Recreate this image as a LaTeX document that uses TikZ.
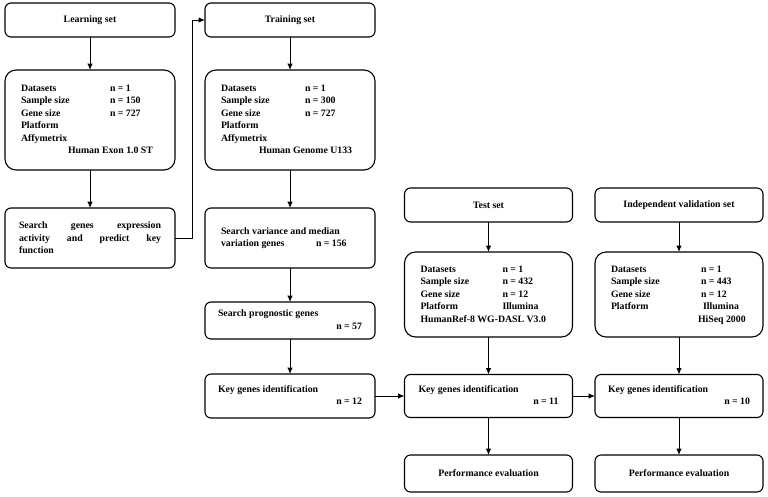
\documentclass[tikz,border=0pt]{standalone}
\usepackage{fontspec}
\setmainfont{Liberation Serif}
\usetikzlibrary{arrows.meta}

\begin{document}
\begin{tikzpicture}[y=1pt, x=1pt, yscale=-1.000000, xscale=1.000000, inner sep=0pt, outer sep=0pt,
  font=\fontsize{9.8}{12.5}\selectfont\bfseries,
  box/.style={draw=black, line width=1.1pt, rounded corners=6pt, minimum width=170pt},
  databox/.style={box, rounded corners=11pt, minimum height=100pt},
  arr/.style={draw=black, line width=1pt, -{Latex[length=6.5pt,width=5.5pt]}}]
\useasboundingbox (0,0) rectangle (768,496);
\begin{scope}% left column
  % learning set
  \node[box, minimum height=34pt] (learn) at (90,20) {Learning set};

  % learndata
  \node[databox] (learndata) at (90,120) {\begin{tabular}{@{}p{89pt}@{}p{49pt}@{}}
    Datasets & n = 1\\
    Sample size & n = 150\\
    Gene size & n = 727\\
    Platform & \\
    Affymetrix & \\
    \multicolumn{2}{@{}l@{}}{\hspace{47pt}Human Exon 1.0 ST}
  \end{tabular}};

  % searchexpr
  \node[box, minimum height=60pt, text width=142pt, align=justify] (searchexpr) at (90,238)
    {Search genes expression\linebreak activity and predict key\linebreak function};

\end{scope}
\begin{scope}% middle column
  % training set
  \node[box, minimum height=34pt] (train) at (290,20) {Training set};

  % traindata
  \node[databox] (traindata) at (290,120) {\begin{tabular}{@{}p{84pt}@{}p{54pt}@{}}
    Datasets & n = 1\\
    Sample size & n = 300\\
    Gene size & n = 727\\
    Platform & \\
    Affymetrix & \\
    \multicolumn{2}{@{}l@{}}{\hspace{38pt}Human Genome U133}
  \end{tabular}};

  % variance
  \node[box, minimum height=60pt] (variance) at (290,238) {\begin{tabular}{@{}p{95pt}@{}p{43pt}@{}}
    \multicolumn{2}{@{}l@{}}{Search variance and median}\\
    variation genes & n = 156
  \end{tabular}};

  % prognostic
  \node[box, minimum height=37pt] (prognostic) at (290,320.5) {\begin{tabular}{@{}p{144pt}@{}}
    Search prognostic genes\\
    \multicolumn{1}{@{}r@{}}{n = 57}
  \end{tabular}};

  % keymid
  \node[box, minimum height=44pt] (keymid) at (290,396) {\begin{tabular}{@{}p{144pt}@{}}
    Key genes identification\\
    \multicolumn{1}{@{}r@{}}{n = 12}
  \end{tabular}};

\end{scope}
\begin{scope}% test column
  % test set
  \node[box, minimum width=168pt, minimum height=34pt] (test) at (488.5,205) {Test set};

  % testdata
  \node[databox, minimum width=168pt, minimum height=85pt] (testdata) at (488.5,294.5)
    {\begin{tabular}{@{}p{82pt}@{}p{54pt}@{}}
    Datasets & n = 1\\
    Sample size & n = 432\\
    Gene size & n = 12\\
    Platform & Illumina\\
    \multicolumn{2}{@{}l@{}}{HumanRef-8 WG-DASL V3.0}
  \end{tabular}};

  % keytest
  \node[box, minimum width=168pt, minimum height=43pt] (keytest) at (488.5,396) {\begin{tabular}{@{}p{140pt}@{}}
    Key genes identification\\
    \multicolumn{1}{@{}r@{}}{n = 11}
  \end{tabular}};

  % perftest
  \node[box, minimum width=168pt, minimum height=37pt] (perftest) at (488.5,473.5) {Performance evaluation};

\end{scope}
\begin{scope}% validation column
  % valid
  \node[box, minimum width=168pt, minimum height=34pt] (valid) at (679,205) {Independent validation set};

  % validdata
  \node[databox, minimum width=168pt, minimum height=85pt] (validdata) at (679,294.5)
    {\begin{tabular}{@{}p{90pt}@{}p{46pt}@{}}
    Datasets & n = 1\\
    Sample size & n = 443\\
    Gene size & n = 12\\
    Platform & \hspace{2pt}Illumina\\
     & \hspace{-3pt}HiSeq 2000
  \end{tabular}};

  % keyvalid
  \node[box, minimum width=168pt, minimum height=43pt] (keyvalid) at (679,396) {\begin{tabular}{@{}p{142pt}@{}}
    Key genes identification\\
    \multicolumn{1}{@{}r@{}}{n = 10}
  \end{tabular}};

  % perfvalid
  \node[box, minimum width=168pt, minimum height=37pt] (perfvalid) at (679,473.5) {Performance evaluation};

\end{scope}
\begin{scope}% arrows
  \draw[arr] (learn) -- (learndata);
  \draw[arr] (learndata) -- (searchexpr);
  \draw[arr] (searchexpr.east) -- ++(17,0) |- (train.west);
  \draw[arr] (train) -- (traindata);
  \draw[arr] (traindata) -- (variance);
  \draw[arr] (variance) -- (prognostic);
  \draw[arr] (prognostic) -- (keymid);
  \draw[arr] (keymid) -- (keytest);
  \draw[arr] (test) -- (testdata);
  \draw[arr] (testdata) -- (keytest);
  \draw[arr] (keytest) -- (perftest);
  \draw[arr] (keytest) -- (keyvalid);
  \draw[arr] (valid) -- (validdata);
  \draw[arr] (validdata) -- (keyvalid);
  \draw[arr] (keyvalid) -- (perfvalid);
\end{scope}

\end{tikzpicture}
\end{document}
